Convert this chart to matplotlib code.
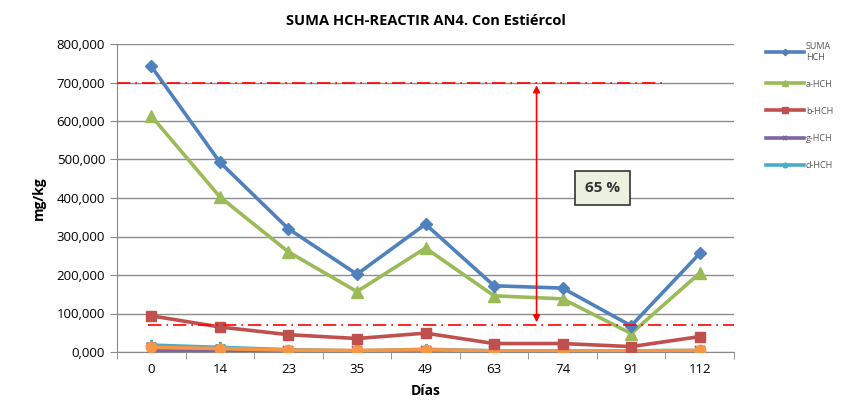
import matplotlib.pyplot as plt
import numpy as np

plt.rcParams['font.family'] = ['Open Sans', 'DejaVu Sans']

dias = ["0", "14", "23", "35", "49", "63", "74", "91", "112"]
suma = [742000, 493000, 320000, 202000, 332000, 172000, 166000, 68000, 256000]
a_hch = [613000, 403000, 260000, 157000, 270000, 146000, 138000, 48000, 205000]
b_hch = [94000, 65000, 45000, 35000, 49000, 22000, 22000, 14000, 40000]
g_hch = [4000, 3000, 2000, 1500, 2500, 1500, 1500, 1500, 2000]
d_hch = [18000, 12000, 6000, 3000, 7000, 3000, 3000, 3000, 4000]
e_hch = [12000, 9000, 5000, 4000, 6000, 3000, 3000, 3000, 4000]
yticks = [0, 100000, 200000, 300000, 400000, 500000, 600000, 700000, 800000]
ytick_labels = ["0,000", "100,000", "200,000", "300,000", "400,000",
                "500,000", "600,000", "700,000", "800,000"]
upper_ref = 700000
lower_ref = 70000
pct_label = "65 %"

fig = plt.figure(figsize=(8.47, 4.12), dpi=100)
ax = fig.add_axes([117/847, 1-352/412, (734-117)/847, (352-44)/412])
x = np.arange(len(dias))

lw = 2.6
ax.plot(x, d_hch, color="#4BACC6", lw=lw, marker=(6, 2, 0), ms=8, mew=1.5, zorder=3, label="d-HCH")
ax.plot(x, g_hch, color="#8064A2", lw=lw, marker="x", ms=7, mew=1.5, zorder=3, label="g-HCH")
ax.plot(x, e_hch, color="#F79646", lw=lw, marker="o", ms=7.5, zorder=4)
ax.plot(x, b_hch, color="#C0504D", lw=lw, marker="s", ms=7.5, zorder=4, label="b-HCH")
ax.plot(x, a_hch, color="#9BBB59", lw=lw, marker="^", ms=8.5, zorder=5, label="a-HCH")
ax.plot(x, suma, color="#4F81BD", lw=lw, marker="D", ms=6.5, zorder=6, label="SUMA\nHCH")

ax.set_xlim(-0.5, len(dias) - 0.5)
ax.set_ylim(0, 800000)
ax.set_yticks(yticks)
ax.set_yticklabels(ytick_labels, fontsize=9.5)
ax.set_xticks(x)
ax.set_xticklabels(dias, fontsize=9.5)
ax.tick_params(axis="x", length=0, pad=8)
ax.set_xticks(np.arange(-0.5, len(dias)), minor=True)
ax.tick_params(axis="x", which="minor", length=5, color="#888888")
ax.tick_params(axis="y", length=5, color="#888888")
ax.yaxis.grid(True, color="#8c8c8c", lw=1)
ax.set_axisbelow(True)
for s in ["top", "right"]:
    ax.spines[s].set_visible(False)
ax.spines["left"].set_color("#888888")
ax.spines["bottom"].set_color("#888888")

ax.set_title("SUMA HCH-REACTIR AN4. Con Estiércol", fontsize=10.5, fontweight="bold", pad=14)
ax.set_ylabel("mg/kg", fontsize=10, fontweight="bold", labelpad=8)
ax.set_xlabel("Días", fontsize=10, fontweight="bold", labelpad=6)

# reference lines
ax.plot([-0.5, 7.5], [upper_ref, upper_ref], color="red", lw=1.2, ls=(0, (8, 3, 1, 3)), zorder=7)
ax.plot([-0.05, 8.5], [lower_ref, lower_ref], color="red", lw=1.2, ls=(0, (8, 3, 1, 3)), zorder=7)
ax.annotate("", xy=(5.62, lower_ref), xytext=(5.62, upper_ref),
            arrowprops=dict(arrowstyle="<|-|>", color="red", lw=1.2, mutation_scale=10), zorder=8)
ax.text(6.58, 426000, pct_label, fontsize=11, fontweight="bold", ha="center", va="center",
        color="#333333",
        bbox=dict(boxstyle="square,pad=0.65", fc="#EBF1DE", ec="#333333", lw=1.2), zorder=9)

handles, labels = ax.get_legend_handles_labels()
order = [4, 3, 2, 1, 0]
leg = fig.legend([handles[i] for i in order], [labels[i] for i in order],
                 loc="upper left", bbox_to_anchor=(758/847, 1-34/412), frameon=False,
                 fontsize=6.5, labelspacing=2.0, handlelength=4.2, handletextpad=0.2,
                 markerscale=0.5)
for t in leg.get_texts():
    t.set_color("#555555")

fig.savefig("out.png", dpi=100)
